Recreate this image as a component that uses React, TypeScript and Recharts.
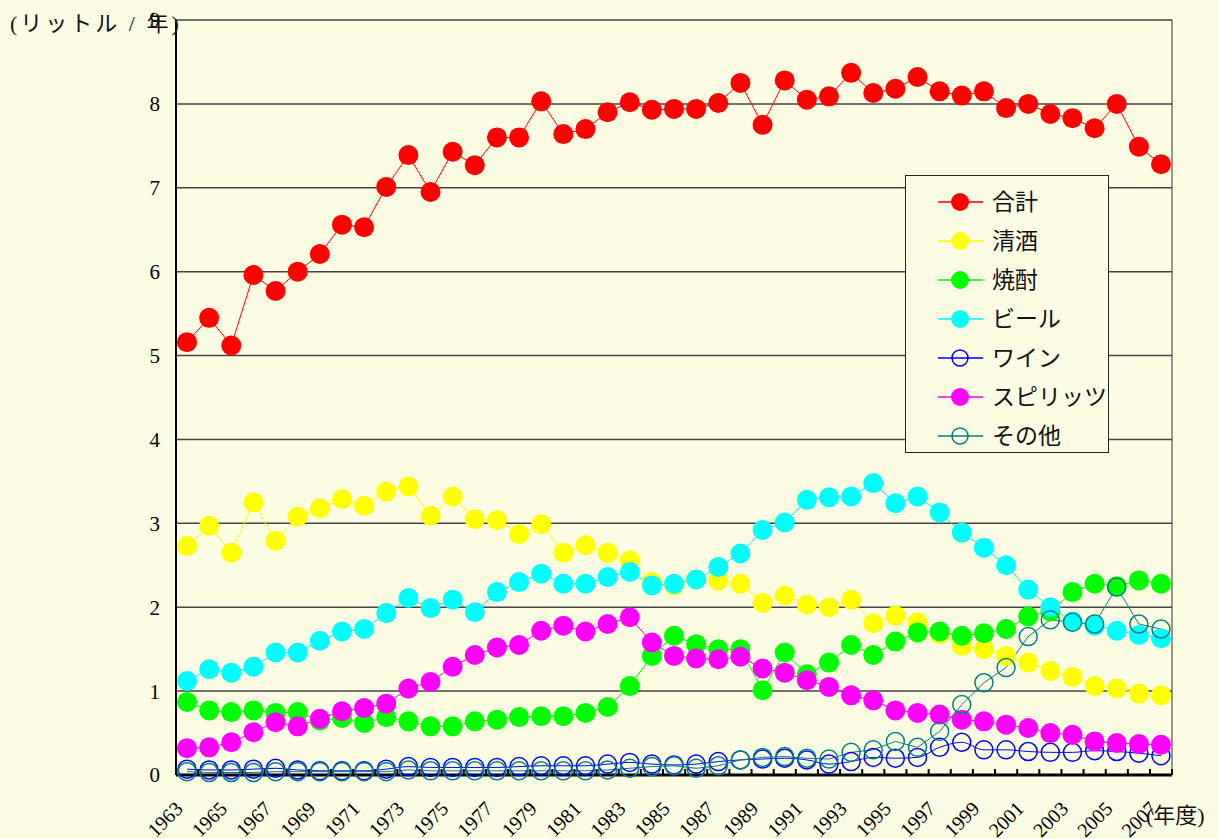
import React from 'react';
import { LineChart, Line, XAxis, YAxis, CartesianGrid, Legend } from 'recharts';

const years = ['1963','1964','1965','1966','1967','1968','1969','1970','1971','1972','1973','1974','1975','1976','1977','1978','1979','1980','1981','1982','1983','1984','1985','1986','1987','1988','1989','1990','1991','1992','1993','1994','1995','1996','1997','1998','1999','2000','2001','2002','2003','2004','2005','2006','2007'];

const total = [5.16,5.45,5.12,5.96,5.77,6.00,6.21,6.56,6.53,7.01, 7.39,6.95,7.43,7.27,7.60,7.60,8.03,7.64,7.70,7.90, 8.02,7.93,7.94,7.94,8.01,8.25,7.75,8.28,8.05,8.09, 8.37,8.13,8.18,8.32,8.15,8.10,8.15,7.95,8.00,7.88, 7.83,7.71,8.00,7.49,7.28];
const sake = [2.73,2.97,2.65,3.25,2.79,3.08,3.18,3.29,3.21,3.38, 3.44,3.09,3.32,3.05,3.04,2.87,2.99,2.65,2.74,2.65, 2.56,2.30,2.26,2.33,2.32,2.28,2.05,2.14,2.03,2.00, 2.09,1.81,1.90,1.82,1.68,1.54,1.50,1.42,1.34,1.24, 1.17,1.06,1.03,0.97,0.95];
const shochu = [0.87,0.77,0.75,0.77,0.74,0.75,0.65,0.68,0.62,0.69, 0.64,0.58,0.58,0.64,0.66,0.69,0.70,0.70,0.74,0.81, 1.06,1.42,1.66,1.56,1.50,1.50,1.01,1.46,1.20,1.34, 1.55,1.43,1.59,1.70,1.71,1.66,1.69,1.74,1.89,1.95, 2.18,2.28,2.25,2.32,2.28];
const beer = [1.12,1.26,1.22,1.29,1.46,1.46,1.60,1.71,1.74,1.93, 2.11,1.99,2.09,1.94,2.18,2.30,2.40,2.28,2.28,2.36, 2.42,2.26,2.28,2.33,2.48,2.64,2.92,3.01,3.28,3.31, 3.32,3.48,3.24,3.32,3.13,2.89,2.71,2.50,2.21,2.00, 1.83,1.78,1.72,1.67,1.63];
const wine = [0.07,0.06,0.06,0.07,0.08,0.06,0.05,0.05,0.05,0.07, 0.10,0.09,0.09,0.09,0.09,0.10,0.11,0.11,0.11,0.13, 0.15,0.13,0.12,0.13,0.16,0.18,0.19,0.20,0.18,0.13, 0.16,0.21,0.20,0.21,0.33,0.39,0.30,0.30,0.28,0.27, 0.27,0.29,0.28,0.26,0.23];
const spirits = [0.32,0.33,0.39,0.51,0.63,0.58,0.67,0.76,0.80,0.85, 1.03,1.11,1.29,1.43,1.52,1.55,1.72,1.78,1.71,1.80, 1.88,1.58,1.42,1.39,1.38,1.41,1.27,1.22,1.13,1.05, 0.95,0.89,0.77,0.74,0.72,0.66,0.64,0.60,0.56,0.50, 0.48,0.40,0.38,0.37,0.36];
const other = [0.04,0.03,0.03,0.03,0.04,0.04,0.04,0.04,0.04,0.04, 0.06,0.05,0.05,0.05,0.05,0.05,0.05,0.05,0.05,0.06, 0.08,0.10,0.11,0.08,0.11,0.18,0.21,0.22,0.20,0.19, 0.27,0.30,0.40,0.33,0.52,0.84,1.10,1.28,1.65,1.85, 1.82,1.80,2.24,1.80,1.74];

const yTicks = [0,1,2,3,4,5,6,7,8,9];

const seriesDefs = [
  { key: 'total', name: '合計', color: '#FF0000', values: total, open: false, curve: 'linear' },
  { key: 'sake', name: '清酒', color: '#FFFF00', values: sake, open: false, curve: 'linear' },
  { key: 'shochu', name: '焼酎', color: '#00FF00', values: shochu, open: false, curve: 'linear' },
  { key: 'beer', name: 'ビール', color: '#00FFFF', values: beer, open: false, curve: 'linear' },
  { key: 'wine', name: 'ワイン', color: '#0000FF', values: wine, open: true, curve: 'monotone' },
  { key: 'spirits', name: 'スピリッツ', color: '#FF00FF', values: spirits, open: false, curve: 'linear' },
  { key: 'other', name: 'その他', color: '#008080', values: other, open: true, curve: 'linear' },
];

const data = years.map((y, i) => {
  const row: any = { year: y };
  seriesDefs.forEach((s) => { row[s.key] = s.values[i]; });
  return row;
});

const BG = '#FCFCE3';
const SERIF = '"Liberation Serif", "Times New Roman", serif';
const JP = '"Liberation Serif", "Noto Sans CJK JP", serif';

const XTick = (props: any) => {
  const { x, y, payload, index } = props;
  const half = 11;
  const isLast = index === years.length - 1;
  const showLabel = index % 2 === 0;
  const ax = x - 3;
  const ay = y + 35;
  return (
    <g>
      <line x1={x - half} x2={x - half} y1={y - 6} y2={y} stroke="#000" strokeWidth={2} />
      {isLast && <line x1={x + half} x2={x + half} y1={y - 6} y2={y} stroke="#000" strokeWidth={2} />}
      {showLabel && (
        <text x={ax} y={ay} textAnchor="end" transform={`rotate(-45, ${ax}, ${ay})`}
          fontSize={20} fontFamily={SERIF} fill="#000">{payload.value}</text>
      )}
    </g>
  );
};

const LegendBox = () => (
  <svg width={204} height={278} style={{ display: 'block' }}>
    <rect x={0.5} y={0.5} width={203} height={277} fill={BG} stroke="#222" strokeWidth={1} />
    {seriesDefs.map((s, i) => {
      const cy = 27 + i * 39;
      return (
        <g key={s.key}>
          <line x1={33} x2={78} y1={cy} y2={cy} stroke={s.color} strokeWidth={1.5} />
          {s.open
            ? <circle cx={55} cy={cy} r={8} fill="none" stroke={s.color} strokeWidth={1.5} />
            : <circle cx={55} cy={cy} r={9} fill={s.color} />}
          <text x={87} y={cy} dominantBaseline="central" fontSize={23} fontFamily={JP} fill="#111">{s.name}</text>
        </g>
      );
    })}
  </svg>
);

export default function App() {
  return (
    <div style={{ position: 'absolute', left: 0, top: 0, width: 1219, height: 839, background: BG, overflow: 'hidden' }}>
      <LineChart width={1219} height={839} data={data} margin={{ top: 20, right: 0, bottom: 0, left: 0 }}>
        <CartesianGrid horizontal={true} vertical={false} stroke="#444" strokeWidth={1.5} yAxisId="left" />
        <XAxis dataKey="year" type="category" interval={0} height={64} padding={{ left: 11, right: 11 }}
          axisLine={{ stroke: '#000', strokeWidth: 3 }} tickLine={false} tickSize={0} tickMargin={0}
          tick={<XTick />} />
        <YAxis yAxisId="left" width={176} domain={[0, 9]} ticks={yTicks} interval={0}
          axisLine={{ stroke: '#000', strokeWidth: 2 }} tickLine={false} tickSize={6} tickMargin={10}
          tick={{ fontSize: 21, fill: '#000', fontFamily: SERIF }} />
        <YAxis yAxisId="right" orientation="right" width={47} domain={[0, 9]} ticks={yTicks}
          axisLine={{ stroke: '#333', strokeWidth: 1 }} tickLine={false} tick={false} />
        <Legend layout="horizontal" verticalAlign="middle" align="center"
          wrapperStyle={{ position: 'absolute', left: 905, top: 175, width: 204, height: 278 }}
          content={() => <LegendBox />} />
        {seriesDefs.map((s) => (
          <Line key={s.key} yAxisId="left" dataKey={s.key} name={s.name} type={s.curve as any}
            stroke={s.color} strokeWidth={1}
            dot={s.open
              ? { r: 9, fill: 'none', stroke: s.color, strokeWidth: 1.5 }
              : { r: 10, fill: s.color, stroke: s.color, strokeWidth: 0 }}
            activeDot={false} isAnimationActive={false} />
        ))}
      </LineChart>
      <div style={{ position: 'absolute', left: 10, top: 10, fontSize: 22, fontFamily: JP, color: '#111', letterSpacing: 3, whiteSpace: 'nowrap', lineHeight: '28px' }}>
        (リットル / 年)
      </div>
      <div style={{ position: 'absolute', left: 1146, top: 802, fontSize: 22, fontFamily: JP, color: '#111', whiteSpace: 'nowrap', lineHeight: '28px' }}>
        (年度)
      </div>
    </div>
  );
}
